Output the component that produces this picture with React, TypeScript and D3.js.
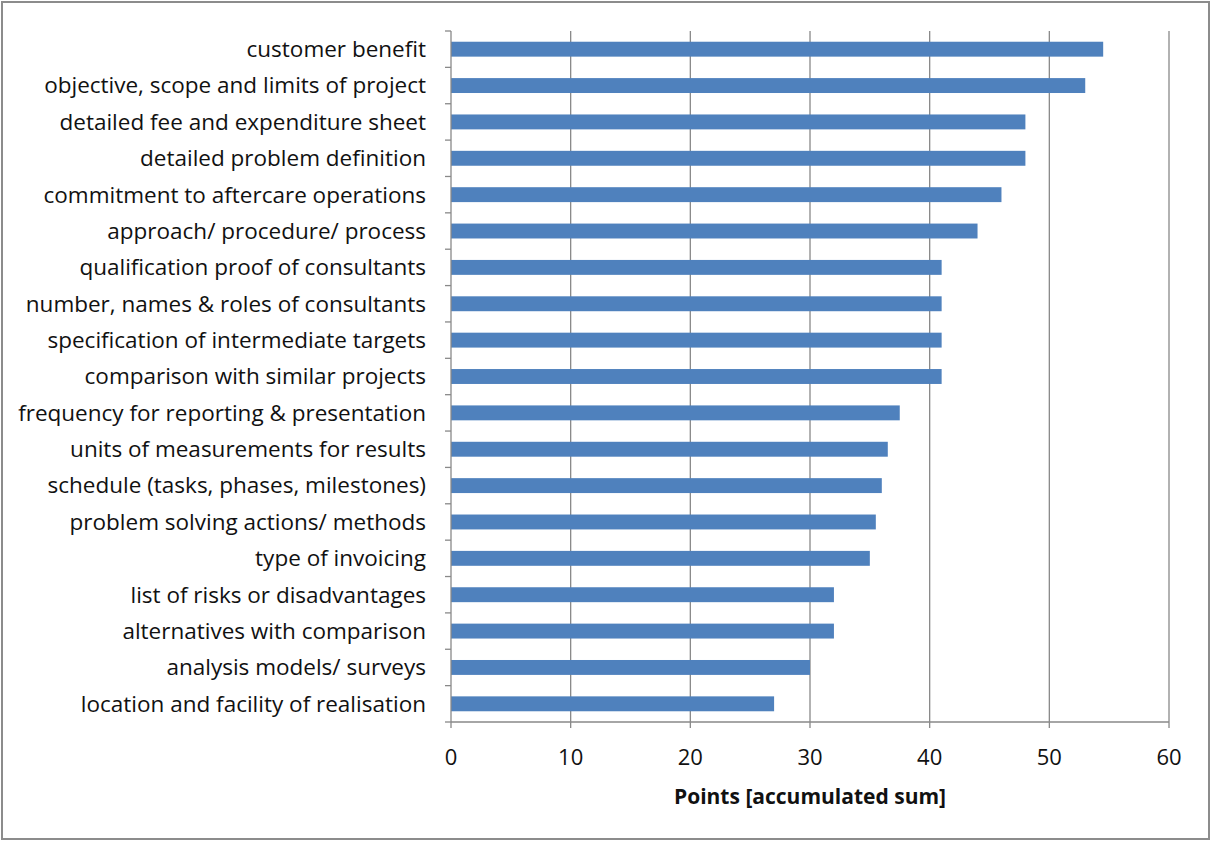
import React from 'react';
import * as d3 from 'd3';

const categories = [
  'customer benefit',
  'objective, scope and limits of project',
  'detailed fee and expenditure sheet',
  'detailed problem definition',
  'commitment to aftercare operations',
  'approach/ procedure/ process',
  'qualification proof of consultants',
  'number, names & roles of consultants',
  'specification of intermediate targets',
  'comparison with similar projects',
  'frequency for reporting & presentation',
  'units of measurements for results',
  'schedule (tasks, phases, milestones)',
  'problem solving actions/ methods',
  'type of invoicing',
  'list of risks or disadvantages',
  'alternatives with comparison',
  'analysis models/ surveys',
  'location and facility of realisation',
];
const points = [54.5, 53, 48, 48, 46, 44, 41, 41, 41, 41, 37.5, 36.5, 36, 35.5, 35, 32, 32, 30, 27];
const xTicks = [0, 10, 20, 30, 40, 50, 60];
const xTitle = 'Points [accumulated sum]';

const W = 1212;
const H = 842;
const left = 451;
const right = 1169;
const top = 31;
const bottom = 722;
const grid = '#898989';
const font = '"Open Sans", sans-serif';

export default function App() {
  const x = d3.scaleLinear().domain([0, 60]).range([left, right]);
  const y = d3.scaleBand<string>().domain(categories).range([top, bottom]).paddingInner(0.59).paddingOuter(0.295);
  const band = d3.scaleBand<string>().domain(categories).range([top, bottom]);

  return (
    <svg width={W} height={H} style={{ position: 'absolute', left: 0, top: 0, background: '#fff' }}>
      <rect x={2} y={2} width={W - 5} height={H - 5} fill="#fff" stroke="#8c8c8c" strokeWidth={2} />
      {/* vertical gridlines */}
      {xTicks.slice(1).map((t) => (
        <line key={t} x1={x(t)} x2={x(t)} y1={top} y2={bottom} stroke={grid} strokeWidth={1.3} />
      ))}
      {/* bars */}
      {categories.map((c, i) => (
        <rect key={c} x={x(0)} y={y(c)} width={x(points[i]) - x(0)} height={y.bandwidth()} fill="#4F81BD" />
      ))}
      {/* y axis */}
      <line x1={left} x2={left} y1={top} y2={bottom} stroke={grid} strokeWidth={1.3} />
      {categories.map((c) => (
        <line key={c} x1={left - 6} x2={left} y1={band(c)!} y2={band(c)!} stroke={grid} strokeWidth={1.3} />
      ))}
      <line x1={left - 6} x2={left} y1={bottom} y2={bottom} stroke={grid} strokeWidth={1.3} />
      {categories.map((c) => (
        <text key={c} x={left - 25} y={band(c)! + band.bandwidth() / 2} dy="0.35em" textAnchor="end"
          fontFamily={font} fontSize={22.5} fill="#111">{c}</text>
      ))}
      {/* x axis */}
      <line x1={left} x2={right} y1={bottom} y2={bottom} stroke={grid} strokeWidth={1.3} />
      {xTicks.map((t) => (
        <g key={t}>
          <line x1={x(t)} x2={x(t)} y1={bottom} y2={bottom + 6} stroke={grid} strokeWidth={1.3} />
          <text x={x(t)} y={757} dy="0.35em" textAnchor="middle" fontFamily={font} fontSize={22} fill="#111">{t}</text>
        </g>
      ))}
      <text x={(left + right) / 2} y={797} dy="0.35em" textAnchor="middle" fontFamily={font} fontSize={21}
        fontWeight="bold" fill="#111">{xTitle}</text>
    </svg>
  );
}
